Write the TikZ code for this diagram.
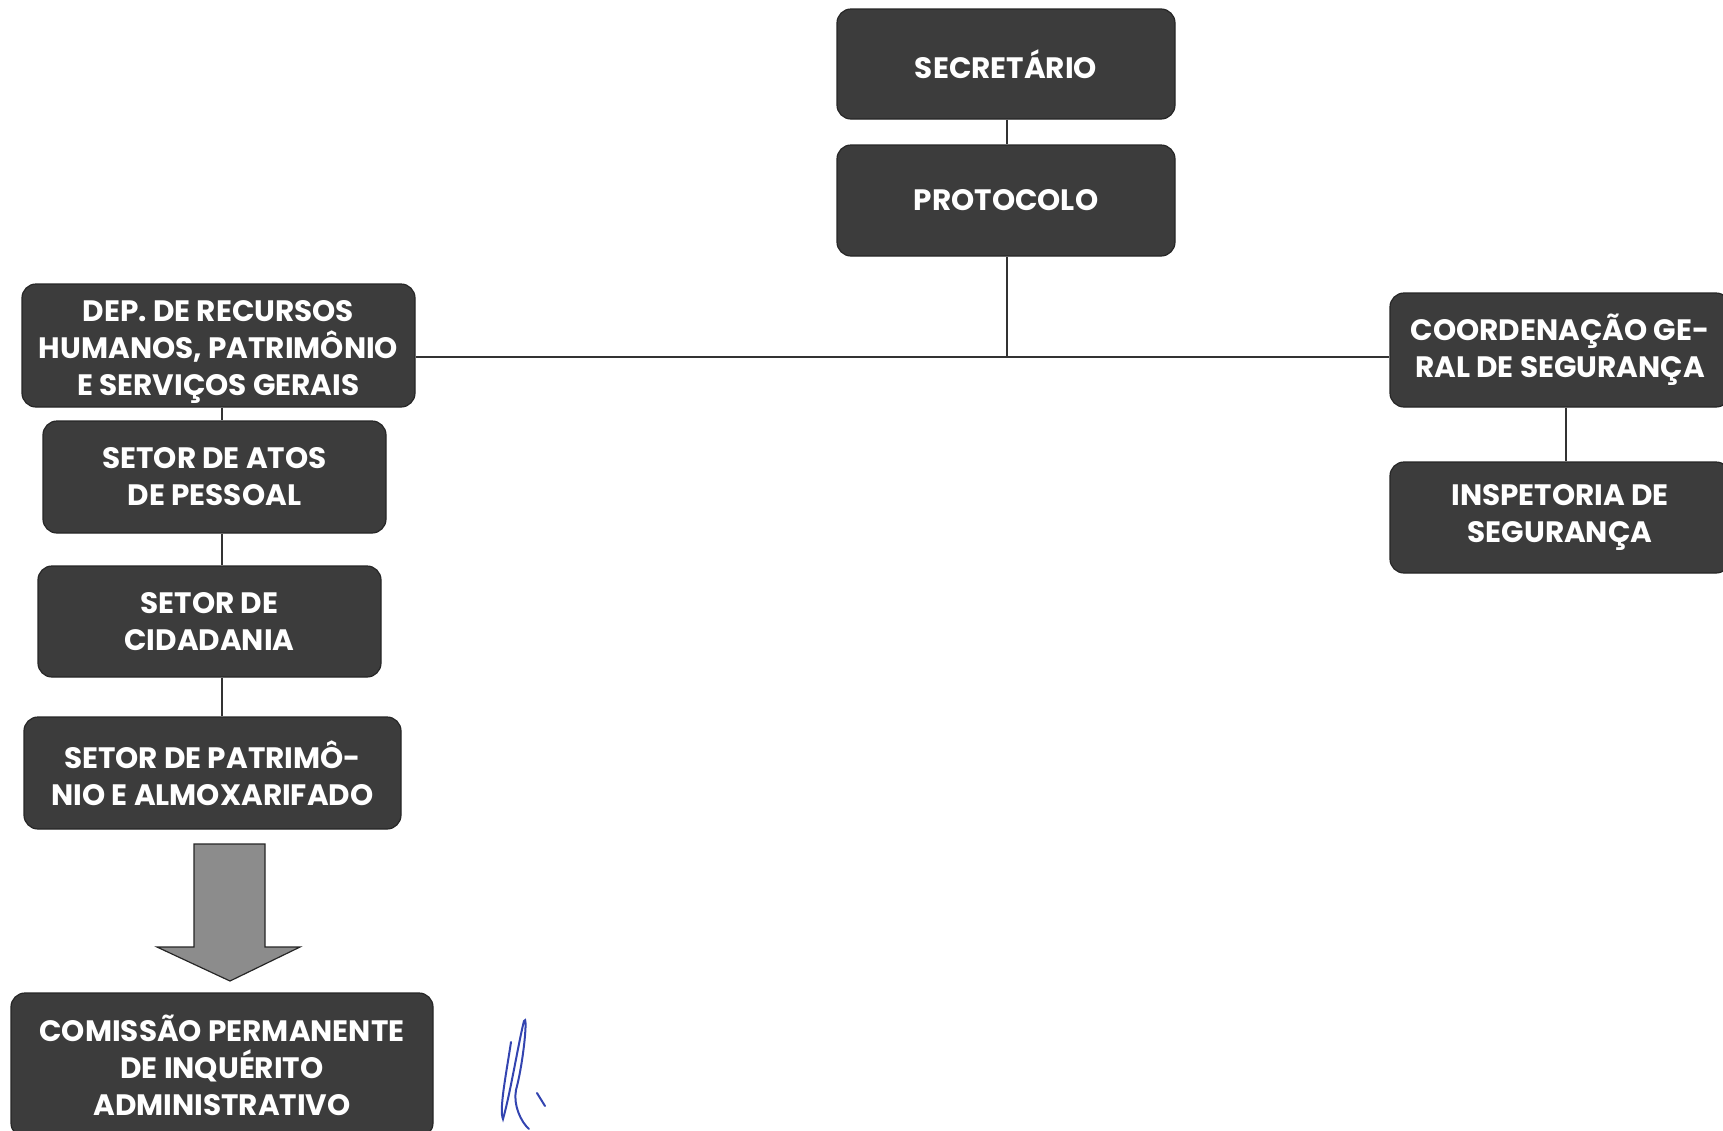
\documentclass[tikz,border=0pt]{standalone}
\usepackage{fontspec}
\newfontfamily\boxfont{Poppins}
\definecolor{boxgray}{HTML}{3C3C3C}
\definecolor{arrowgray}{HTML}{8C8C8C}
\definecolor{inkblue}{HTML}{3344B0}
\begin{document}
\begin{tikzpicture}[x=1pt,y=-1pt,
  orgbox/.style={draw=black!85, line width=1.2pt, fill=boxgray, rounded corners=14pt,
    text=white, align=center, inner sep=0pt,
    font=\boxfont\bfseries\fontsize{29.5}{37}\selectfont},
  boxtext/.style={text=white, align=center, inner sep=0pt,
    font=\boxfont\bfseries\fontsize{29.5}{37}\selectfont},
  link/.style={draw=black!80, line width=1.2pt}]
\useasboundingbox (0,0) rectangle (1723,1130);
\begin{scope}
\clip (0,0) rectangle (1723,1130);
\node[orgbox, minimum width=338pt, minimum height=110pt] (sec) at (1006,64) {SECRETÁRIO};
\node[orgbox, minimum width=338pt, minimum height=111pt] (pro) at (1006,200.5) {PROTOCOLO};
\node[orgbox, minimum width=393pt, minimum height=123pt] (dep) at (218.5,345.5) {};
\node[boxtext] (deptext) at ([yshift=-6pt]dep.center) {DEP. DE RECURSOS\\HUMANOS, PATRIMÔNIO\\E SERVIÇOS GERAIS};
\node[orgbox, minimum width=343pt, minimum height=112pt] (atos) at (214.5,477) {SETOR DE ATOS\\DE PESSOAL};
\node[orgbox, minimum width=343pt, minimum height=111pt] (cid) at (209.5,621.5) {SETOR DE\\CIDADANIA};
\node[orgbox, minimum width=377pt, minimum height=112pt] (pat) at (212.5,773) {SETOR DE PATRIMÔ-\\NIO E ALMOXARIFADO};
\node[orgbox, minimum width=422pt, minimum height=144pt] (com) at (222,1065) {COMISSÃO PERMANENTE\\DE INQUÉRITO\\ADMINISTRATIVO};
\node[orgbox, minimum width=340pt, minimum height=114pt] (coo) at (1560,350) {COORDENAÇÃO GE-\\RAL DE SEGURANÇA};
\node[orgbox, minimum width=340pt, minimum height=111pt] (insp) at (1560,517.5) {INSPETORIA DE\\SEGURANÇA};
\end{scope}
\coordinate (hub) at (1007,357);
\draw[link] (1007,0 |- sec.south) -- (1007,0 |- pro.north);
\draw[link] (1007,0 |- pro.south) -- (hub);
\draw[link] (dep.east |- hub) -- (coo.west |- hub);
\draw[link] (222,0 |- dep.south) -- (222,0 |- atos.north);
\draw[link] (222,0 |- atos.south) -- (222,0 |- cid.north);
\draw[link] (222,0 |- cid.south) -- (222,0 |- pat.north);
\draw[link] (1566,0 |- coo.south) -- (1566,0 |- insp.north);
% block arrow
\draw[fill=arrowgray, draw=black!85, line width=1.2pt, line join=miter]
  (194,844) -- (265,844) -- (265,947) -- (300,947) -- (230,981) -- (157,947) -- (194,947) -- cycle;
% handwritten mark
\draw[inkblue, line width=2pt, line cap=round]
  (511,1042) .. controls (506,1075) and (499,1110) .. (503,1119)
  .. controls (510,1095) and (519,1040) .. (524,1021)
  .. controls (528,1012) and (524,1060) .. (516,1090)
  .. controls (513,1105) and (521,1122) .. (529,1129);
\draw[inkblue, line width=2pt, line cap=round] (537,1093) -- (545,1106);
\end{tikzpicture}
\end{document}
